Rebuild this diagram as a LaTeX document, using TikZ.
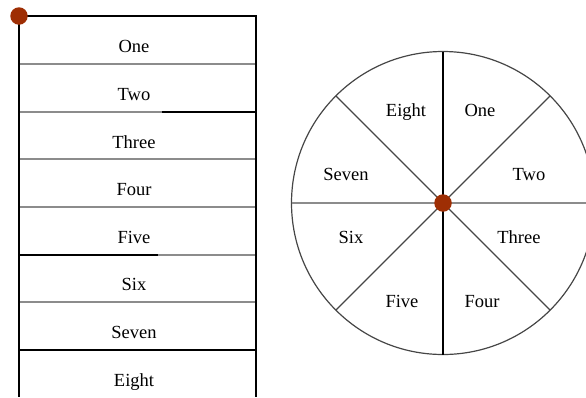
\documentclass[tikz,border=0pt]{standalone}
\usepackage{fontspec}
\setmainfont{Liberation Serif}
\usetikzlibrary{calc}
\definecolor{dotred}{RGB}{158,46,4}
\definecolor{lgray}{RGB}{140,140,140}
\definecolor{dgray}{RGB}{70,70,70}
\tikzset{
  lbl/.style={font=\fontsize{18.5}{22}\selectfont, inner sep=0pt, anchor=base},
  blk/.style={draw=black, line width=1.2pt},
  gry/.style={draw=lgray, line width=1.4pt},
  dgr/.style={draw=dgray, line width=1.2pt},
  dot/.style={circle, fill=dotred, minimum size=17.5pt, inner sep=0pt}
}
\begin{document}
\begin{tikzpicture}[x=1pt,y=-1pt]
\useasboundingbox (0,0) rectangle (586,397);
\clip (0,0) rectangle (586,397);
% table
\draw[gry] (19,64) -- (256,64);
\draw[gry] (19,112) -- (162,112);
\draw[blk] (162,112) -- (256,112);
\draw[gry] (19,159) -- (256,159);
\draw[gry] (19,207) -- (256,207);
\draw[blk] (19,255) -- (158,255);
\draw[gry] (158,255) -- (256,255);
\draw[gry] (19,302) -- (256,302);
\draw[blk] (19,350) -- (256,350);
\draw[blk] (19,396.5) -- (19,16) -- (256,16) -- (256,396.5);
\node[lbl] (r1) at (134,52.5) {One};
\node[lbl] (r2) at (134,100) {Two};
\node[lbl] (r3) at (134,148) {Three};
\node[lbl] (r4) at (134,195.5) {Four};
\node[lbl] (r5) at (134,243) {Five};
\node[lbl] (r6) at (134,290.5) {Six};
\node[lbl] (r7) at (134,338) {Seven};
\node[lbl] (r8) at (134,386) {Eight};
\node[dot] (tdot) at (19,16) {};
% wheel
\coordinate (c) at (443,203);
\draw[dgr] (c) circle (151.5);
\draw[gry] ($(c)+(-151.5,0)$) -- ($(c)+(151.5,0)$);
\draw[blk] ($(c)+(0,-151.5)$) -- ($(c)+(0,151.5)$);
\draw[dgr] ($(c)+(-107.1,-107.1)$) -- ($(c)+(107.1,107.1)$);
\draw[dgr] ($(c)+(-107.1,107.1)$) -- ($(c)+(107.1,-107.1)$);
\node[lbl] (w1) at (480,116) {One};
\node[lbl] (w2) at (529,180) {Two};
\node[lbl] (w3) at (519,243) {Three};
\node[lbl] (w4) at (482,307) {Four};
\node[lbl] (w5) at (402,307) {Five};
\node[lbl] (w6) at (351,243) {Six};
\node[lbl] (w7) at (346,180) {Seven};
\node[lbl] (w8) at (406,116) {Eight};
\node[dot] (cdot) at (c) {};
\end{tikzpicture}
\end{document}
